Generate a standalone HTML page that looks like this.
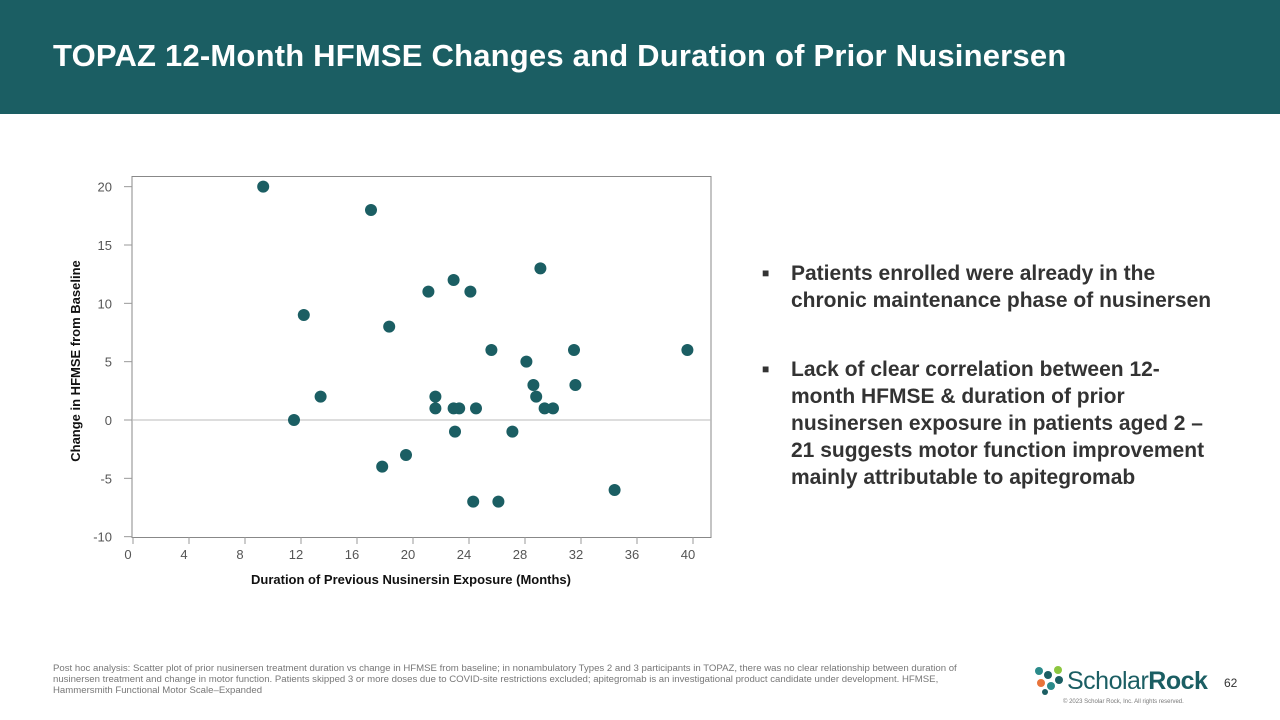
<!DOCTYPE html>
<html><head><meta charset="utf-8"><style>
body{margin:0;width:1280px;height:720px;background:#fff;font-family:"Liberation Sans",sans-serif;position:relative;overflow:hidden}
.hdr{position:absolute;left:0;top:0;width:1280px;height:114px;background:#1b5e63}
.hdr h1{position:absolute;left:53px;top:38px;margin:0;color:#fff;font-size:31px;font-weight:bold;letter-spacing:0.2px}
.bul{position:absolute;left:762px;width:460px;color:#333;font-size:21px;font-weight:bold;line-height:27px}
.bul span{position:absolute;left:0;font-size:12px}
.bul p{margin:0 0 0 29px}
.foot{position:absolute;left:53px;top:663px;width:925px;font-size:9.6px;color:#777;line-height:11px}
</style></head><body>
<div class="hdr"><h1>TOPAZ 12-Month HFMSE Changes and Duration of Prior Nusinersen</h1></div>
<svg id="chart" width="1280" height="720" style="position:absolute;left:0;top:0"></svg>
<div class="bul" style="top:260px"><span>■</span><p>Patients enrolled were already in the chronic maintenance phase of nusinersen</p></div>
<div class="bul" style="top:356px"><span>■</span><p>Lack of clear correlation between 12-month HFMSE &amp; duration of prior nusinersen exposure in patients aged 2 – 21 suggests motor function improvement mainly attributable to apitegromab</p></div>
<div class="foot">Post hoc analysis: Scatter plot of prior nusinersen treatment duration vs change in HFMSE from baseline; in nonambulatory Types 2 and 3 participants in TOPAZ, there was no clear relationship between duration of nusinersen treatment and change in motor function. Patients skipped 3 or more doses due to COVID-site restrictions excluded; apitegromab is an investigational product candidate under development. HFMSE, Hammersmith Functional Motor Scale–Expanded</div>
<div style="position:absolute;left:1033px;top:665px;width:180px;height:30px">
<svg width="32" height="30" style="position:absolute;left:0;top:0"><circle cx="6" cy="6" r="4" fill="#2a8a8a"/><circle cx="15" cy="10" r="4" fill="#1b5e63"/><circle cx="25" cy="5" r="4" fill="#8cc63f"/><circle cx="8" cy="18" r="4" fill="#e8743b"/><circle cx="18" cy="21" r="4" fill="#2a8a8a"/><circle cx="26" cy="15" r="4" fill="#1b5e63"/><circle cx="12" cy="27" r="3" fill="#1b5e63"/></svg>
<div style="position:absolute;left:34px;top:2px;font-size:25px;color:#1b5e63;letter-spacing:-0.5px">Scholar<b>Rock</b></div>
</div>
<div style="position:absolute;left:1224px;top:676px;font-size:12px;color:#333">62</div>
<div style="position:absolute;left:1063px;top:699px;font-size:6px;color:#777">© 2023 Scholar Rock, Inc. All rights reserved.</div>
<script>
const xVals=[9.3,17.0,12.2,13.4,11.5,18.3,17.8,19.5,21.1,21.6,21.6,22.9,22.9,23.3,23.0,24.1,24.5,24.3,25.6,26.1,27.1,28.1,28.6,28.8,29.1,29.4,30.0,31.5,31.6,34.4,39.6];
const yVals=[20,18,9,2,0,8,-4,-3,11,2,1,12,1,1,-1,11,1,-7,6,-7,-1,5,3,2,13,1,1,6,3,-6,6];
const xTicks=[0,4,8,12,16,20,24,28,32,36,40];
const yTicks=[-10,-5,0,5,10,15,20];
const NS='http://www.w3.org/2000/svg';
const svg=document.getElementById('chart');
const X=v=>133+v*14, Y=v=>420+(-v)*11.667;
function mk(t,a,txt){const e=document.createElementNS(NS,t);for(const k in a)e.setAttribute(k,a[k]);if(txt!==undefined)e.textContent=txt;svg.appendChild(e);return e;}
let f=mk('rect',{x:132,y:176.5,width:579,height:361,fill:'none',stroke:'#888','stroke-width':1});


let z=mk('line',{x1:124,x2:711,y1:Y(0),y2:Y(0),stroke:'#bbb'});


yTicks.forEach(v=>{
 let l=mk('line',{x1:124,x2:132,y1:Y(v),y2:Y(v),stroke:'#999'});
 
 
 let t=mk('text',{x:112,y:Y(v)+5,'text-anchor':'end','font-size':13,fill:'#555'},v);
 
 
});
xTicks.forEach(v=>{
 let l=mk('line',{x1:X(v),x2:X(v),y1:537,y2:544,stroke:'#999'});
 
 
 let t=mk('text',{x:X(v)-5,y:559,'text-anchor':'middle','font-size':13,fill:'#555'},v);
 
 
});
let xt=mk('text',{x:411,y:584,'text-anchor':'middle','font-size':13,'font-weight':'bold',fill:'#111'},'Duration of Previous Nusinersin Exposure (Months)');


let yt=mk('text',{x:0,y:0,transform:'translate(80,361) rotate(-90)','text-anchor':'middle','font-size':13,'font-weight':'bold',fill:'#111'},'Change in HFMSE from Baseline');


xVals.forEach((v,i)=>{
 let c=mk('circle',{cx:X(v),cy:Y(yVals[i]),r:6,fill:'#1b5e63'});
 
 
});
</script>
</body></html>
